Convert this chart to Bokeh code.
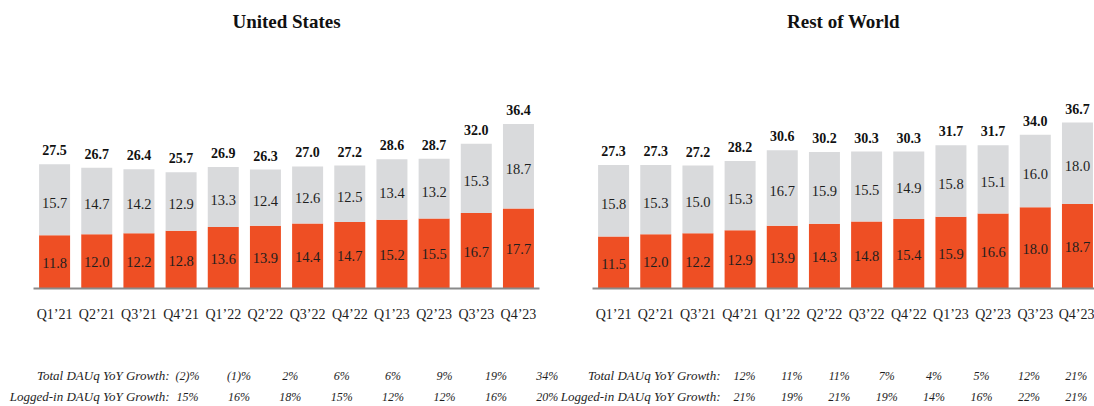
import numpy as np
from bokeh.plotting import figure
from bokeh.layouts import column, row
from bokeh.models import Range1d, FixedTicker, ColumnDataSource
from bokeh.core.properties import value
from bokeh.embed import file_html
from bokeh.resources import INLINE

# ---------------- data ----------------
quarters = ["Q1’21", "Q2’21", "Q3’21", "Q4’21", "Q1’22", "Q2’22",
            "Q3’22", "Q4’22", "Q1’23", "Q2’23", "Q3’23", "Q4’23"]

us_logged = [11.8, 12.0, 12.2, 12.8, 13.6, 13.9, 14.4, 14.7, 15.2, 15.5, 16.7, 17.7]
us_other = [15.7, 14.7, 14.2, 12.9, 13.3, 12.4, 12.6, 12.5, 13.4, 13.2, 15.3, 18.7]
us_total = [27.5, 26.7, 26.4, 25.7, 26.9, 26.3, 27.0, 27.2, 28.6, 28.7, 32.0, 36.4]

row_logged = [11.5, 12.0, 12.2, 12.9, 13.9, 14.3, 14.8, 15.4, 15.9, 16.6, 18.0, 18.7]
row_other = [15.8, 15.3, 15.0, 15.3, 16.7, 15.9, 15.5, 14.9, 15.8, 15.1, 16.0, 18.0]
row_total = [27.3, 27.3, 27.2, 28.2, 30.6, 30.2, 30.3, 30.3, 31.7, 31.7, 34.0, 36.7]

growth_labels = ["Total DAUq YoY Growth:", "Logged-in DAUq YoY Growth:"]
us_total_growth = ["(2)%", "(1)%", "2%", "6%", "6%", "9%", "19%", "34%"]
us_logged_growth = ["15%", "16%", "18%", "15%", "12%", "12%", "16%", "20%"]
row_total_growth = ["12%", "11%", "11%", "7%", "4%", "5%", "12%", "21%"]
row_logged_growth = ["21%", "19%", "21%", "19%", "14%", "16%", "22%", "21%"]

# ---------------- style ----------------
ORANGE = "#EE4F24"
GRAY = "#D9DADC"
TEXT = "#1E1E1E"
FONT = value("Liberation Serif")
PX_PER_UNIT = 4.52
CAT_PX = 42.17
TOP_BORDER = 38
BOTTOM_BORDER = 52
FRAME_H = 250
MAIN_H = TOP_BORDER + FRAME_H + BOTTOM_BORDER
TABLE_H = 406 - MAIN_H


def make_panel(title, logged, other, total, width, b_left, b_right):
    frame_w = width - b_left - b_right
    x = np.arange(len(quarters))
    p = figure(width=width, height=MAIN_H, output_backend="svg", toolbar_location=None,
               x_range=Range1d(-0.5, -0.5 + frame_w / CAT_PX),
               y_range=Range1d(0, FRAME_H / PX_PER_UNIT),
               y_axis_location=None, min_border_left=b_left, min_border_right=b_right,
               min_border_top=TOP_BORDER, min_border_bottom=BOTTOM_BORDER)
    p.title.text = title
    p.title.align = "center"
    p.title.text_font = "Liberation Serif"
    p.title.text_font_size = "19px"
    p.title.text_font_style = "bold"
    p.title.text_color = "#111111"
    p.title.standoff = 14
    p.outline_line_color = None
    p.grid.visible = False
    p.background_fill_color = "white"
    p.border_fill_color = "white"

    logged = np.array(logged)
    other = np.array(other)
    total = np.array(total)
    src = ColumnDataSource(dict(
        x=x, logged=logged, total=total,
        mid_l=logged / 2.0, mid_o=logged + other / 2.0,
        lab_l=[f"{v:.1f}" for v in logged], lab_o=[f"{v:.1f}" for v in other],
        lab_t=[f"{v:.1f}" for v in total]))

    p.vbar(x="x", bottom=0, top="logged", width=0.735, source=src,
           fill_color=ORANGE, line_color=None)
    p.vbar(x="x", bottom="logged", top="total", width=0.735, source=src,
           fill_color=GRAY, line_color=None)

    p.text(x="x", y="mid_l", text="lab_l", source=src, text_font=FONT,
           text_font_size="14.5px", text_color=TEXT, text_align="center",
           text_baseline="alphabetic", y_offset=1)
    p.text(x="x", y="mid_o", text="lab_o", source=src, text_font=FONT,
           text_font_size="14.5px", text_color=TEXT, text_align="center",
           text_baseline="alphabetic", y_offset=3)
    p.text(x="x", y="total", text="lab_t", source=src, text_font=FONT,
           text_font_size="14px", text_font_style="bold", text_color="#111111",
           text_align="center", text_baseline="alphabetic", y_offset=-14)

    ax = p.xaxis[0]
    ax.ticker = FixedTicker(ticks=list(range(len(quarters))))
    ax.major_label_overrides = {i: q for i, q in enumerate(quarters)}
    ax.major_tick_line_color = None
    ax.minor_tick_line_color = None
    ax.axis_line_color = "#8A8A8A"
    ax.axis_line_width = 2
    ax.major_label_standoff = 12
    ax.major_label_text_font = "Liberation Serif"
    ax.major_label_text_font_size = "14px"
    ax.major_label_text_color = TEXT
    return p


def add_table(p, total_g, logged_g, first_col, step, label_right, row_y):
    n = len(total_g)
    xs = [first_col + step * i for i in range(n)] * 2
    ys = [row_y[0]] * n + [row_y[1]] * n
    p.text(x=xs, y=ys, text=list(total_g) + list(logged_g), text_font=FONT,
           text_font_size="12px", text_font_style="italic", text_color=TEXT,
           text_align="center", text_baseline="middle")
    p.text(x=[label_right, label_right], y=row_y, text=growth_labels, text_font=FONT,
           text_font_size="13px", text_font_style="italic", text_color=TEXT,
           text_align="right", text_baseline="middle")


pL = make_panel("United States", us_logged, us_other, us_total, 565, 33, 26)
pR = make_panel("Rest of World", row_logged, row_other, row_total, 529, 27, 0)

# growth table below both charts (x in page pixels, y in pixels from table top)
tbl = figure(width=1094, height=TABLE_H, output_backend="svg", toolbar_location=None,
             x_range=Range1d(0, 1094), y_range=Range1d(TABLE_H, 0),
             x_axis_location=None, y_axis_location=None, min_border=0)
tbl.outline_line_color = None
tbl.grid.visible = False
rows_y = [35, 56]
add_table(tbl, us_total_growth, us_logged_growth, 187, 51.4, 169, rows_y)
add_table(tbl, row_total_growth, row_logged_growth, 744, 47.4, 720, rows_y)

layout = column(row(pL, pR), tbl)
open("out.html", "w").write(file_html(layout, INLINE))
